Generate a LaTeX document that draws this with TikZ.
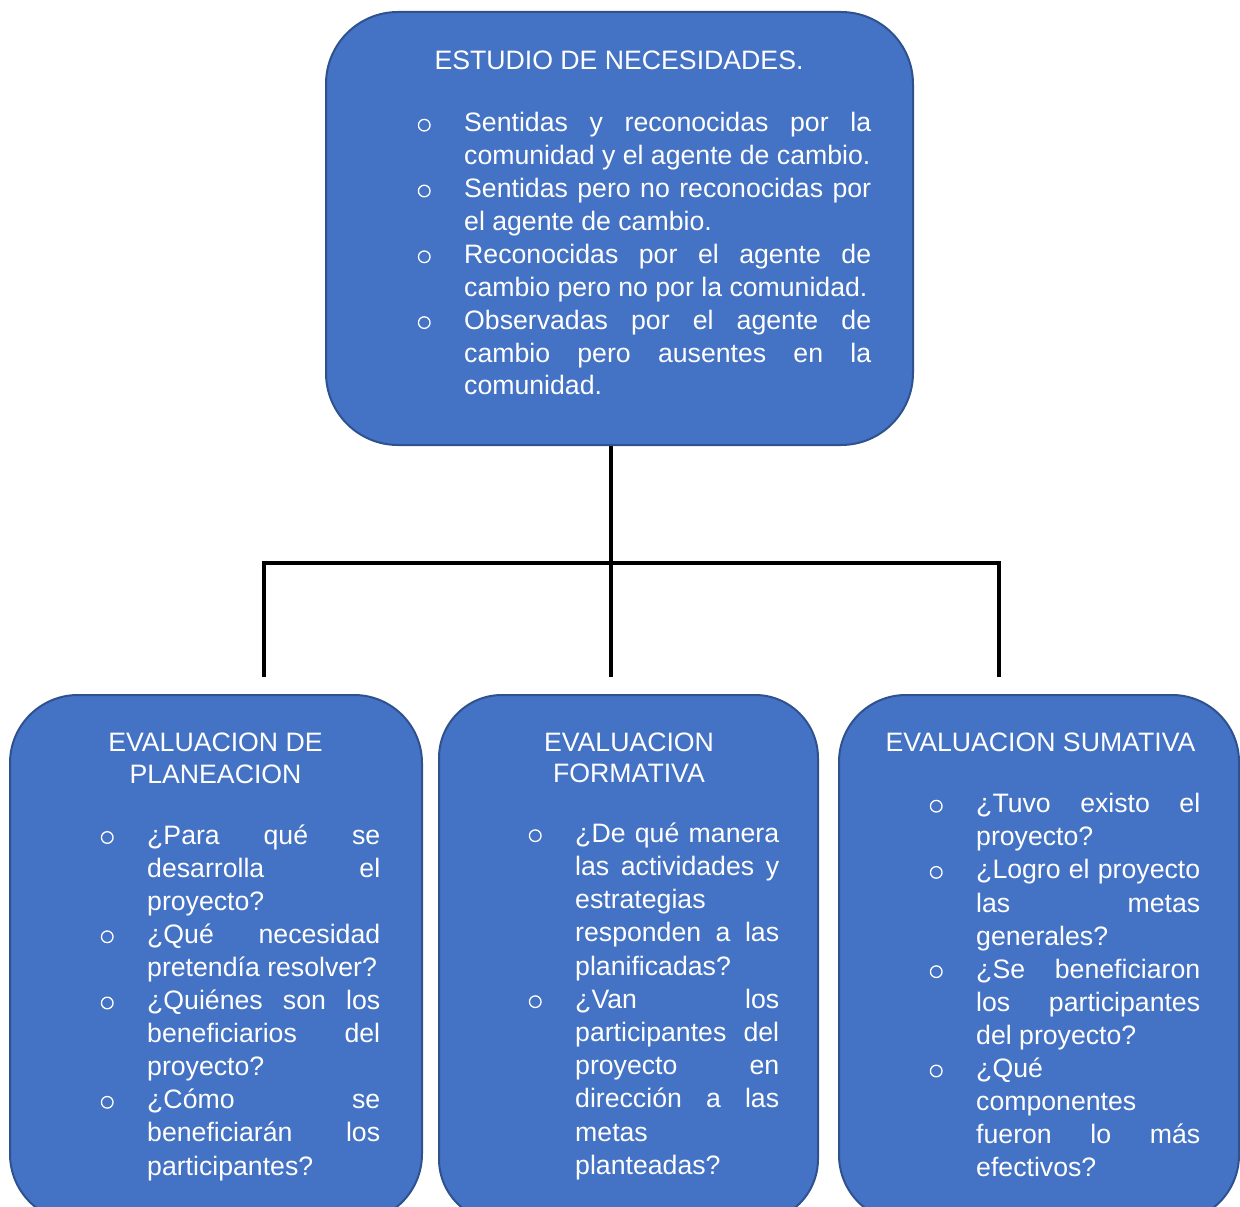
\documentclass[tikz,border=0pt]{standalone}
\usepackage{fontspec}
\setmainfont{Liberation Sans}
\definecolor{boxfill}{HTML}{4472C4}
\definecolor{boxline}{HTML}{2F528F}
\newlength\tw
\newlength\ind
\setlength\ind{48pt}
\newcommand\bul{\hspace*{1.6pt}\tikz[baseline=0pt]\draw[white,line width=1.3pt] (0pt,6.5pt) circle[radius=5.8pt];}
\newcommand\bJ[1]{\noindent\makebox[\ind][l]{\bul}\makebox[\tw][s]{#1}\par}
\newcommand\bL[1]{\noindent\makebox[\ind][l]{\bul}#1\par}
\newcommand\cJ[1]{\noindent\hspace*{\ind}\makebox[\tw][s]{#1}\par}
\newcommand\cL[1]{\noindent\hspace*{\ind}#1\par}
\newcommand\txtblock[3][33.1]{\setlength\tw{#2pt}\parbox[t]{\dimexpr\ind+\tw\relax}{\fontsize{26.67}{#1}\selectfont\parskip=0pt #3}}
\newcommand\ttl[2][31.6]{\parbox[t]{400pt}{\centering\fontsize{26.67}{#1}\selectfont #2}}
\begin{document}
\begin{tikzpicture}[x=1pt,y=-1pt,
  box/.style={draw=boxline, line width=2pt, fill=boxfill, inner sep=0pt, outer sep=0pt},
  conn/.style={draw=black, line width=4pt},
  txt/.style={anchor=base west, inner sep=0pt, text=white},
  ttlnode/.style={anchor=base, inner sep=0pt, text=white}]
\useasboundingbox (0,0) rectangle (1240,1207);
\clip (0,0) rectangle (1240,1207);
\fill[white] (0,0) rectangle (1240,1207);
% connector coordinates
\coordinate (jm) at (611,562.5);
\coordinate (jl) at (264,562.5);
\coordinate (jr) at (999,562.5);
\coordinate (el) at (264,677);
\coordinate (em) at (611,677);
\coordinate (er) at (999,677);
\coordinate (ts) at (611,445);
\draw[conn] (ts) -- (em);
\draw[conn] (el) -- (jl) -- (jr) -- (er);
% boxes
\node[box, rounded corners=72pt, minimum width=587pt, minimum height=433pt] (top) at (619.5,228.5) {};
\node[box, rounded corners=68pt, minimum width=412pt, minimum height=527pt] (left) at (216,958.5) {};
\node[box, rounded corners=63pt, minimum width=379pt, minimum height=527pt] (mid) at (628.5,958.5) {};
\node[box, rounded corners=67pt, minimum width=400pt, minimum height=527pt] (right) at (1039,958.5) {};
% top box text
\node[ttlnode] (toptitle) at (619,69.3) {\ttl{ESTUDIO DE NECESIDADES.}};
\node[txt] (toptext) at (416,131.7) {\txtblock[32.9]{407}{%
\bJ{Sentidas y reconocidas por la}
\cL{comunidad y el agente de cambio.}
\bJ{Sentidas pero no reconocidas por}
\cL{el agente de cambio.}
\bJ{Reconocidas por el agente de}
\cL{cambio pero no por la comunidad.}
\bJ{Observadas por el agente de}
\cJ{cambio pero ausentes en la}
\cL{comunidad.}}};
% left box text
\node[ttlnode] (lefttitle) at (215.5,751.7) {\ttl{EVALUACION DE\\PLANEACION}};
\node[txt] (lefttext) at (99,844) {\txtblock[33.1]{233}{%
\bJ{¿Para qué se}
\cJ{desarrolla el}
\cL{proyecto?}
\bJ{¿Qué necesidad}
\cL{pretendía resolver?}
\bJ{¿Quiénes son los}
\cJ{beneficiarios del}
\cL{proyecto?}
\bJ{¿Cómo se}
\cJ{beneficiarán los}
\cL{participantes?}}};
% middle box text
\node[ttlnode] (midtitle) at (629,751.2) {\ttl{EVALUACION\\FORMATIVA}};
\node[txt] (midtext) at (527,842.2) {\txtblock[33.2]{204}{%
\bJ{¿De qué manera}
\cJ{las actividades y}
\cL{estrategias}
\cJ{responden a las}
\cL{planificadas?}
\bJ{¿Van los}
\cJ{participantes del}
\cJ{proyecto en}
\cJ{dirección a las}
\cL{metas}
\cL{planteadas?}}};
% right box text
\node[ttlnode] (righttitle) at (1040.5,751.2) {\ttl{EVALUACION SUMATIVA}};
\node[txt] (righttext) at (928,812.7) {\txtblock[33.1]{224}{%
\bJ{¿Tuvo existo el}
\cL{proyecto?}
\bJ{¿Logro el proyecto}
\cJ{las metas}
\cL{generales?}
\bJ{¿Se beneficiaron}
\cJ{los participantes}
\cL{del proyecto?}
\bL{¿Qué}
\cL{componentes}
\cJ{fueron lo más}
\cL{efectivos?}}};
\end{tikzpicture}
\end{document}
